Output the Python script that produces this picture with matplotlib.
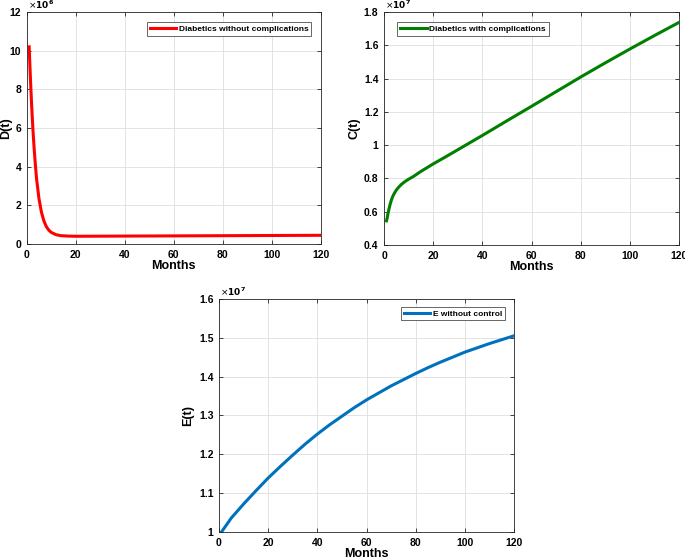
import numpy as np
import matplotlib.pyplot as plt
from matplotlib.ticker import FuncFormatter

plt.rcParams['font.family'] = ['Liberation Sans', 'DejaVu Sans']

# === Data ===
t_d = [1, 1.5, 2, 2.5, 3, 3.5, 4, 5, 6, 7, 8, 9, 10, 12, 14, 17, 20, 30, 40, 60, 80, 100, 120]
d_vals = [10.2e6, 8.6e6, 7.2e6, 6.0e6, 5.0e6, 4.15e6, 3.4e6, 2.35e6, 1.65e6, 1.2e6, 0.9e6,
          0.72e6, 0.6e6, 0.48e6, 0.43e6, 0.41e6, 0.40e6, 0.405e6, 0.41e6, 0.42e6, 0.43e6,
          0.44e6, 0.45e6]

t_c = [1, 1.25, 1.5, 2, 2.5, 3, 3.5, 4, 5, 6, 7, 8, 9, 10, 12, 15, 20, 25, 30, 35, 40,
       50, 60, 70, 80, 90, 100, 110, 120]
c_vals = [0.545e7, 0.56e7, 0.58e7, 0.615e7, 0.645e7, 0.67e7, 0.69e7, 0.705e7, 0.73e7,
          0.748e7, 0.763e7, 0.775e7, 0.786e7, 0.795e7, 0.812e7, 0.842e7, 0.887e7, 0.929e7,
          0.972e7, 1.015e7, 1.058e7, 1.146e7, 1.233e7, 1.321e7, 1.409e7, 1.494e7, 1.577e7,
          1.658e7, 1.737e7]

t_e = [1, 5, 10, 15, 20, 25, 30, 35, 40, 45, 50, 55, 60, 65, 70, 75, 80, 85, 90, 95,
       100, 105, 110, 115, 120]
e_vals = [1.0e7, 1.036e7, 1.072e7, 1.106e7, 1.139e7, 1.169e7, 1.198e7, 1.226e7, 1.252e7,
          1.276e7, 1.298e7, 1.320e7, 1.340e7, 1.358e7, 1.376e7, 1.392e7, 1.408e7, 1.423e7,
          1.437e7, 1.450e7, 1.463e7, 1.474e7, 1.485e7, 1.495e7, 1.505e7]

x_ticks = [0, 20, 40, 60, 80, 100, 120]


def style_axes(ax, yticks, exp, ylabel, ylabel_x, legend_label, leg_loc, leg_anchor):
    ax.set_xlim(0, 120)
    ax.set_ylim(yticks[0], yticks[-1])
    ax.set_xticks(x_ticks)
    ax.set_yticks(yticks)
    ax.xaxis.set_major_formatter(FuncFormatter(lambda v, p: '%g' % v))
    ax.yaxis.set_major_formatter(FuncFormatter(lambda v, p: '%g' % round(v / 10**exp, 4)))
    ax.tick_params(direction='in', length=3, width=0.6, labelsize=7.5, colors='0.15',
                   top=True, right=True, pad=4)
    for lab in ax.get_xticklabels() + ax.get_yticklabels():
        lab.set_fontweight('bold')
        lab.set_color('black')
    for s in ax.spines.values():
        s.set_color('0.15')
        s.set_linewidth(0.6)
    ax.grid(True, color='0.87', linewidth=0.6)
    ax.set_xlabel('Months', fontsize=9, fontweight='bold', labelpad=0.5)
    ax.set_ylabel(ylabel, fontsize=9, fontweight='bold')
    ax.yaxis.set_label_coords(ylabel_x, 0.5)
    ax.annotate(r'$\times\mathbf{10^{%d}}$' % exp, xy=(0, 1), xycoords='axes fraction',
                xytext=(1, 0.5), textcoords='offset points', fontsize=6.5,
                ha='left', va='bottom')
    leg = ax.legend([legend_label], loc=leg_loc, bbox_to_anchor=leg_anchor,
                    fancybox=False, framealpha=1, edgecolor='0.3', borderpad=0.35,
                    handlelength=3.2, handletextpad=0.3, borderaxespad=0,
                    prop={'weight': 'bold', 'size': 6.0})
    leg.get_frame().set_linewidth(0.6)


fig = plt.figure(figsize=(6.85, 5.59), dpi=100)

ax1 = fig.add_axes([0.039, 0.5635, 0.429, 0.415])
ax1.plot(t_d, d_vals, color=(1, 0, 0), linewidth=2.2)
style_axes(ax1, [0, 2e6, 4e6, 6e6, 8e6, 10e6, 12e6], 6, 'D(t)', -0.05,
           'Diabetics without complications', 'upper right', (0.969, 0.957))

ax2 = fig.add_axes([0.5606, 0.5617, 0.4307, 0.417])
ax2.plot(t_c, c_vals, color=(0, 0.5, 0), linewidth=2.2)
style_axes(ax2, [0.4e7, 0.6e7, 0.8e7, 1.0e7, 1.2e7, 1.4e7, 1.6e7, 1.8e7], 7, 'C(t)', -0.078,
           'Diabetics with complications', 'upper left', (0.044, 0.957))

ax3 = fig.add_axes([0.3197, 0.0483, 0.4307, 0.417])
ax3.plot(t_e, e_vals, color=(0, 0.447, 0.741), linewidth=2.2)
style_axes(ax3, [1.0e7, 1.1e7, 1.2e7, 1.3e7, 1.4e7, 1.5e7, 1.6e7], 7, 'E(t)', -0.085,
           'E without control', 'upper right', (0.969, 0.966))

fig.savefig('out.png', dpi=100)
